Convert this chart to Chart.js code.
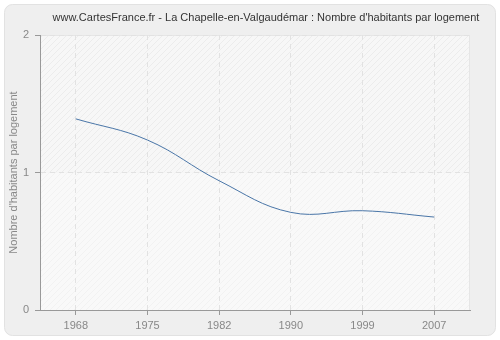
<!DOCTYPE html>
<html>
<head>
<meta charset="utf-8">
<script src="https://cdn.jsdelivr.net/npm/chart.js@4.4.0/dist/chart.umd.min.js"></script>
<style>
  html, body { margin: 0; padding: 0; background: #ffffff; }
  #wrap { width: 500px; height: 340px; position: relative; }
</style>
</head>
<body>
<div id="wrap"><canvas id="chart" width="500" height="340"></canvas></div>
<script>
// data
const years = ["1968", "1975", "1982", "1990", "1999", "2007"];
const habitantsParLogement = [1.39, 1.236, 0.94, 0.71, 0.722, 0.676];
const yTicks = [0, 1, 2];

const titleText = "www.CartesFrance.fr - La Chapelle-en-Valgaudémar : Nombre d'habitants par logement";
const fontFamily = "'Liberation Sans', Arial, sans-serif";

function makeHatch(bg, line) {
  let c = document.createElement("canvas");
  c.width = 6;
  c.height = 6;
  let g = c.getContext("2d");
  g.fillStyle = bg;
  g.fillRect(0, 0, 6, 6);
  g.strokeStyle = line;
  g.lineWidth = 1;
  g.beginPath();
  g.moveTo(0, 6);
  g.lineTo(6, 0);
  g.moveTo(-1, 1);
  g.lineTo(1, -1);
  g.moveTo(5, 7);
  g.lineTo(7, 5);
  g.stroke();
  return g.createPattern(c, "repeat");
}

// card background, hatched plot area and title
const backgroundPlugin = {
  id: "background",
  beforeDraw(chart) {
    let ctx = chart.ctx;
    let area = chart.chartArea;
    ctx.save();
    ctx.fillStyle = "#ffffff";
    ctx.fillRect(0, 0, chart.width, chart.height);
    ctx.beginPath();
    ctx.roundRect(4.5, 4.5, chart.width - 9, chart.height - 9, 8);
    ctx.fillStyle = "#efefef";
    ctx.fill();
    ctx.strokeStyle = "#e2e2e2";
    ctx.lineWidth = 1;
    ctx.stroke();

    let yMid = chart.scales.y.getPixelForValue(1);
    ctx.fillStyle = makeHatch("#f7f7f7", "#ececec");
    ctx.fillRect(area.left, area.top, area.right - area.left, yMid - area.top);
    ctx.fillStyle = makeHatch("#f9f9f9", "#f2f2f2");
    ctx.fillRect(area.left, yMid, area.right - area.left, area.bottom - yMid);
    ctx.strokeStyle = "#e6e6e6";
    ctx.strokeRect(area.left + 0.5, area.top + 0.5, area.right - area.left - 1, area.bottom - area.top);

    ctx.fillStyle = "#333333";
    ctx.font = "11px " + fontFamily;
    ctx.textAlign = "center";
    ctx.textBaseline = "middle";
    ctx.fillText(titleText, 266, 18);
    ctx.restore();
  },
  afterDraw(chart) {
    // the x axis line runs a little past the y axis on the left
    let ctx = chart.ctx;
    let area = chart.chartArea;
    ctx.save();
    ctx.strokeStyle = "#999999";
    ctx.lineWidth = 1;
    ctx.beginPath();
    ctx.moveTo(area.left - 5, Math.round(area.bottom) + 0.5);
    ctx.lineTo(area.left, Math.round(area.bottom) + 0.5);
    ctx.stroke();
    ctx.restore();
  },
};

new Chart(document.getElementById("chart").getContext("2d"), {
  type: "line",
  data: {
    labels: years,
    datasets: [
      {
        label: "Nombre d'habitants par logement",
        data: habitantsParLogement,
        borderColor: "#4a76a8",
        backgroundColor: "#4a76a8",
        borderWidth: 1,
        pointRadius: 0,
        tension: 0.4,
        fill: false,
      },
    ],
  },
  options: {
    responsive: false,
    animation: false,
    layout: { padding: { top: 35, right: 30, left: 0, bottom: 0 } },
    plugins: {
      legend: { display: false },
      title: { display: false },
      tooltip: { enabled: false },
    },
    scales: {
      x: {
        type: "category",
        offset: true,
        afterFit(scale) {
          scale.height = 30;
        },
        grid: {
          offset: false,
          color: "#e2e2e2",
          tickLength: 5,
          tickColor: "#999999",
          tickBorderDash: [],
        },
        border: { display: true, color: "#999999", dash: [5, 4] },
        ticks: {
          color: "#888888",
          font: { family: fontFamily, size: 11 },
          padding: 4,
          maxRotation: 0,
        },
      },
      y: {
        min: 0,
        max: 2,
        afterFit(scale) {
          scale.width = 40;
        },
        afterBuildTicks(scale) {
          scale.ticks = yTicks.map((v) => ({ value: v }));
        },
        grid: {
          color: "#e2e2e2",
          tickLength: 5,
          tickColor: "#999999",
          tickBorderDash: [],
        },
        border: { display: true, color: "#999999", dash: [5, 4] },
        ticks: {
          color: "#888888",
          font: { family: fontFamily, size: 11 },
          padding: 6,
        },
        title: {
          display: true,
          text: "Nombre d'habitants par logement",
          color: "#888888",
          font: { family: fontFamily, size: 11 },
          padding: { top: 7, bottom: 0 },
        },
      },
    },
  },
  plugins: [backgroundPlugin],
});
</script>
</body>
</html>
